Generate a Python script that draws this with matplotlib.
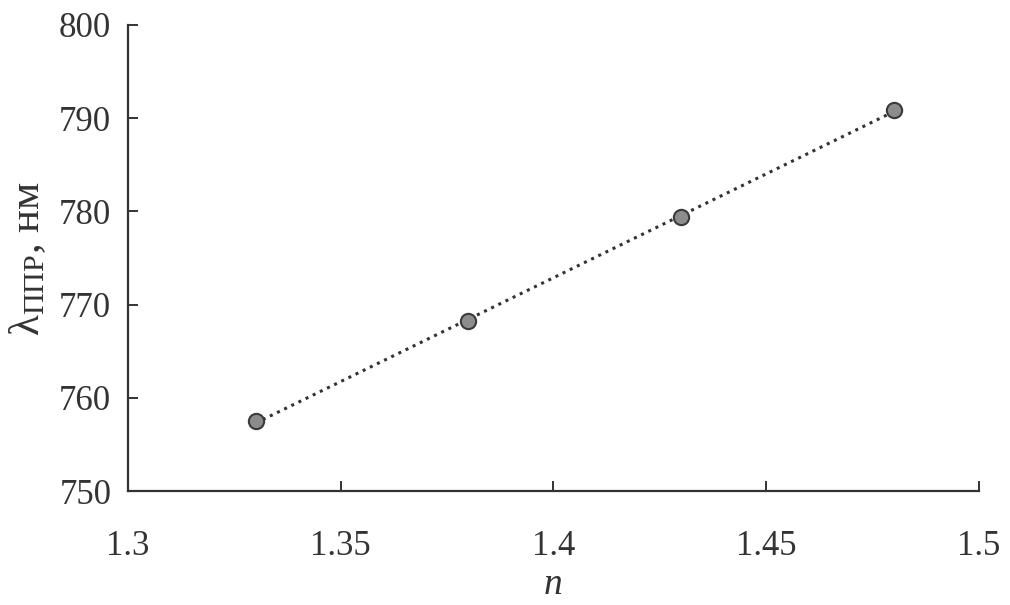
import numpy as np
import matplotlib.pyplot as plt
from matplotlib.ticker import FuncFormatter

# refractive index vs. plasmon resonance wavelength
n_vals = [1.33, 1.38, 1.43, 1.48]
lam_vals = [757.5, 768.2, 779.4, 790.9]

x_ticks = [1.3, 1.35, 1.4, 1.45, 1.5]
y_ticks = [750, 760, 770, 780, 790, 800]

FONT = 'Liberation Serif'
plt.rcParams['font.family'] = 'serif'
plt.rcParams['font.serif'] = [FONT, 'DejaVu Serif']
plt.rcParams['mathtext.fontset'] = 'custom'
plt.rcParams['mathtext.rm'] = FONT
plt.rcParams['mathtext.it'] = FONT + ':italic'

fig = plt.figure(figsize=(10.1, 6.05), dpi=100)
ax = fig.add_axes([0.1267, 0.1884, 0.8426, 0.7703])

# linear trend through the points
k, b = np.polyfit(n_vals, lam_vals, 1)
xf = np.array([n_vals[0], n_vals[-1]])
ax.plot(xf, k * xf + b, linestyle=(0, (1, 1.6)), color='#333333', linewidth=2.2, zorder=2)
ax.plot(n_vals, lam_vals, 'o', markersize=11, markerfacecolor='#8c8c8c',
        markeredgecolor='#3a3a3a', markeredgewidth=1.5, zorder=3)

ax.set_xlim(1.3, 1.5)
ax.set_ylim(750, 800)
ax.set_xticks(x_ticks)
ax.set_yticks(y_ticks)
ax.xaxis.set_major_formatter(FuncFormatter(lambda v, p: f'{v:g}'))

for s in ['top', 'right']:
    ax.spines[s].set_visible(False)
for s in ['left', 'bottom']:
    ax.spines[s].set_linewidth(1.6)
    ax.spines[s].set_color('#333333')

ax.tick_params(direction='in', length=7, width=1.4, color='#333333',
               labelsize=25, labelcolor='#333333')
ax.tick_params(axis='x', pad=28)
ax.tick_params(axis='y', pad=12)
for lbl in ax.get_xticklabels() + ax.get_yticklabels():
    lbl.set_fontfamily(FONT)

ax.set_xlabel('n', fontsize=27, color='#333333', labelpad=3,
              family=FONT, style='italic')
ax.set_ylabel('λ$_{\\mathrm{ППР}}$, нм', fontsize=31, color='#333333', labelpad=8,
              family=FONT)

fig.savefig('out.png', dpi=100)
